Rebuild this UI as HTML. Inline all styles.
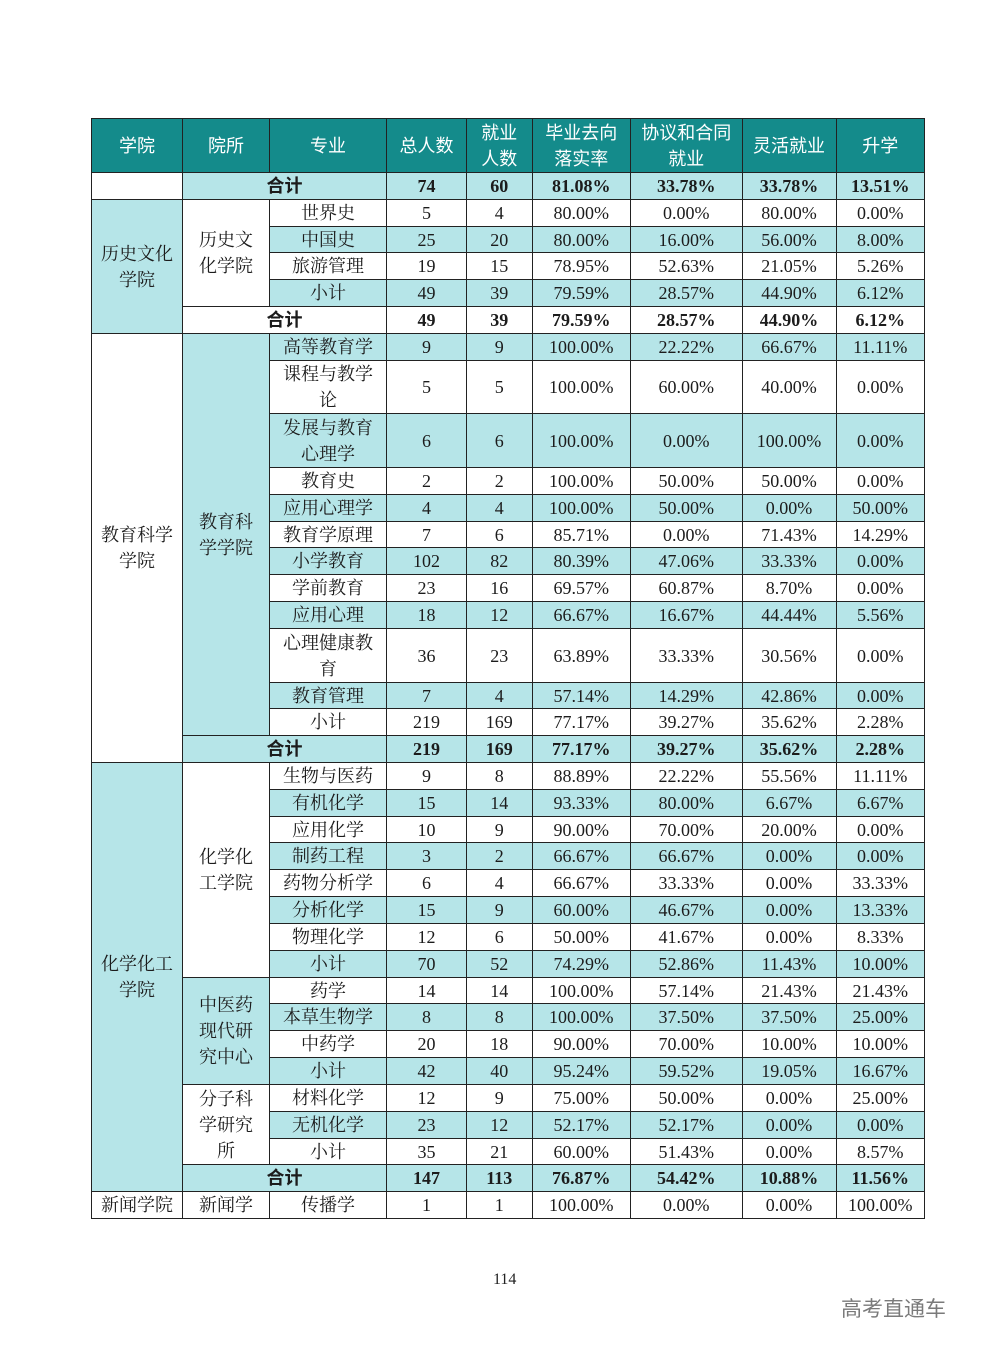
<!DOCTYPE html>
<html><head><meta charset="utf-8">
<style>
html,body{margin:0;padding:0;background:#fff;}
body{width:992px;height:1346px;position:relative;overflow:hidden;}
table{position:absolute;left:91px;top:118px;width:833px;border-collapse:collapse;table-layout:fixed;
font-family:"Liberation Serif","Noto Serif CJK SC",serif;font-size:18px;color:#1c1c1c;}
td{border:1px solid #222;padding:0;text-align:center;vertical-align:middle;line-height:20px;white-space:nowrap;overflow:hidden;}
td.m{line-height:26px;}
tr{height:27px;}
tr.s{height:26px;}
tr.d{height:53px;}
tr.e{height:54px;}
tr.h{height:54px;}
tr.h td{background:#148b8b;color:#fff;font-family:"Liberation Sans","Noto Sans CJK SC",sans-serif;font-size:18px;line-height:26px;}
.c{background:#b6e5e8;}
.b{font-weight:bold;}
.hj{font-family:"Liberation Serif","Noto Sans CJK SC",sans-serif;font-weight:bold;}
.pg{position:absolute;left:493px;top:1271px;font-family:"Liberation Serif",serif;font-size:16px;color:#222;}
.wm{position:absolute;left:841px;top:1293px;font-family:"Noto Sans CJK SC",sans-serif;font-size:21px;color:#7a7a7a;}
</style></head><body>
<table>
<colgroup><col style="width:91px"><col style="width:87px"><col style="width:117px"><col style="width:80px"><col style="width:65.5px"><col style="width:98.5px"><col style="width:111.5px"><col style="width:94px"><col style="width:88.5px"></colgroup>
<tr class="h"><td>学院</td><td>院所</td><td>专业</td><td>总人数</td><td>就业<br>人数</td><td>毕业去向<br>落实率</td><td>协议和合同<br>就业</td><td>灵活就业</td><td>升学</td></tr>
<tr class="b"><td></td><td colspan="2" class="c hj">合计</td><td class="c">74</td><td class="c">60</td><td class="c">81.08%</td><td class="c">33.78%</td><td class="c">33.78%</td><td class="c">13.51%</td></tr>

<tr><td rowspan="5" class="c m">历史文化<br>学院</td><td rowspan="4" class="m">历史文<br>化学院</td><td>世界史</td><td>5</td><td>4</td><td>80.00%</td><td>0.00%</td><td>80.00%</td><td>0.00%</td></tr>
<tr class="s"><td class="c">中国史</td><td class="c">25</td><td class="c">20</td><td class="c">80.00%</td><td class="c">16.00%</td><td class="c">56.00%</td><td class="c">8.00%</td></tr>
<tr><td>旅游管理</td><td>19</td><td>15</td><td>78.95%</td><td>52.63%</td><td>21.05%</td><td>5.26%</td></tr>
<tr><td class="c">小计</td><td class="c">49</td><td class="c">39</td><td class="c">79.59%</td><td class="c">28.57%</td><td class="c">44.90%</td><td class="c">6.12%</td></tr>
<tr class="b"><td colspan="2" class="hj">合计</td><td>49</td><td>39</td><td>79.59%</td><td>28.57%</td><td>44.90%</td><td>6.12%</td></tr>

<tr><td rowspan="13" class="m">教育科学<br>学院</td><td rowspan="12" class="c m">教育科<br>学学院</td><td class="c">高等教育学</td><td class="c">9</td><td class="c">9</td><td class="c">100.00%</td><td class="c">22.22%</td><td class="c">66.67%</td><td class="c">11.11%</td></tr>
<tr class="d"><td class="m">课程与教学<br>论</td><td>5</td><td>5</td><td>100.00%</td><td>60.00%</td><td>40.00%</td><td>0.00%</td></tr>
<tr class="e"><td class="c m">发展与教育<br>心理学</td><td class="c">6</td><td class="c">6</td><td class="c">100.00%</td><td class="c">0.00%</td><td class="c">100.00%</td><td class="c">0.00%</td></tr>
<tr><td>教育史</td><td>2</td><td>2</td><td>100.00%</td><td>50.00%</td><td>50.00%</td><td>0.00%</td></tr>
<tr><td class="c">应用心理学</td><td class="c">4</td><td class="c">4</td><td class="c">100.00%</td><td class="c">50.00%</td><td class="c">0.00%</td><td class="c">50.00%</td></tr>
<tr class="s"><td>教育学原理</td><td>7</td><td>6</td><td>85.71%</td><td>0.00%</td><td>71.43%</td><td>14.29%</td></tr>
<tr><td class="c">小学教育</td><td class="c">102</td><td class="c">82</td><td class="c">80.39%</td><td class="c">47.06%</td><td class="c">33.33%</td><td class="c">0.00%</td></tr>
<tr><td>学前教育</td><td>23</td><td>16</td><td>69.57%</td><td>60.87%</td><td>8.70%</td><td>0.00%</td></tr>
<tr><td class="c">应用心理</td><td class="c">18</td><td class="c">12</td><td class="c">66.67%</td><td class="c">16.67%</td><td class="c">44.44%</td><td class="c">5.56%</td></tr>
<tr class="e"><td class="m">心理健康教<br>育</td><td>36</td><td>23</td><td>63.89%</td><td>33.33%</td><td>30.56%</td><td>0.00%</td></tr>
<tr class="s"><td class="c">教育管理</td><td class="c">7</td><td class="c">4</td><td class="c">57.14%</td><td class="c">14.29%</td><td class="c">42.86%</td><td class="c">0.00%</td></tr>
<tr><td>小计</td><td>219</td><td>169</td><td>77.17%</td><td>39.27%</td><td>35.62%</td><td>2.28%</td></tr>
<tr class="b"><td colspan="2" class="c hj">合计</td><td class="c">219</td><td class="c">169</td><td class="c">77.17%</td><td class="c">39.27%</td><td class="c">35.62%</td><td class="c">2.28%</td></tr>

<tr><td rowspan="16" class="c m">化学化工<br>学院</td><td rowspan="8" class="m">化学化<br>工学院</td><td>生物与医药</td><td>9</td><td>8</td><td>88.89%</td><td>22.22%</td><td>55.56%</td><td>11.11%</td></tr>
<tr><td class="c">有机化学</td><td class="c">15</td><td class="c">14</td><td class="c">93.33%</td><td class="c">80.00%</td><td class="c">6.67%</td><td class="c">6.67%</td></tr>
<tr class="s"><td>应用化学</td><td>10</td><td>9</td><td>90.00%</td><td>70.00%</td><td>20.00%</td><td>0.00%</td></tr>
<tr><td class="c">制药工程</td><td class="c">3</td><td class="c">2</td><td class="c">66.67%</td><td class="c">66.67%</td><td class="c">0.00%</td><td class="c">0.00%</td></tr>
<tr><td>药物分析学</td><td>6</td><td>4</td><td>66.67%</td><td>33.33%</td><td>0.00%</td><td>33.33%</td></tr>
<tr><td class="c">分析化学</td><td class="c">15</td><td class="c">9</td><td class="c">60.00%</td><td class="c">46.67%</td><td class="c">0.00%</td><td class="c">13.33%</td></tr>
<tr><td>物理化学</td><td>12</td><td>6</td><td>50.00%</td><td>41.67%</td><td>0.00%</td><td>8.33%</td></tr>
<tr><td class="c">小计</td><td class="c">70</td><td class="c">52</td><td class="c">74.29%</td><td class="c">52.86%</td><td class="c">11.43%</td><td class="c">10.00%</td></tr>
<tr class="s"><td rowspan="4" class="c m">中医药<br>现代研<br>究中心</td><td>药学</td><td>14</td><td>14</td><td>100.00%</td><td>57.14%</td><td>21.43%</td><td>21.43%</td></tr>
<tr><td class="c">本草生物学</td><td class="c">8</td><td class="c">8</td><td class="c">100.00%</td><td class="c">37.50%</td><td class="c">37.50%</td><td class="c">25.00%</td></tr>
<tr><td>中药学</td><td>20</td><td>18</td><td>90.00%</td><td>70.00%</td><td>10.00%</td><td>10.00%</td></tr>
<tr><td class="c">小计</td><td class="c">42</td><td class="c">40</td><td class="c">95.24%</td><td class="c">59.52%</td><td class="c">19.05%</td><td class="c">16.67%</td></tr>
<tr><td rowspan="3" class="m">分子科<br>学研究<br>所</td><td>材料化学</td><td>12</td><td>9</td><td>75.00%</td><td>50.00%</td><td>0.00%</td><td>25.00%</td></tr>
<tr><td class="c">无机化学</td><td class="c">23</td><td class="c">12</td><td class="c">52.17%</td><td class="c">52.17%</td><td class="c">0.00%</td><td class="c">0.00%</td></tr>
<tr class="s"><td>小计</td><td>35</td><td>21</td><td>60.00%</td><td>51.43%</td><td>0.00%</td><td>8.57%</td></tr>
<tr class="b"><td colspan="2" class="c hj">合计</td><td class="c">147</td><td class="c">113</td><td class="c">76.87%</td><td class="c">54.42%</td><td class="c">10.88%</td><td class="c">11.56%</td></tr>

<tr><td>新闻学院</td><td>新闻学</td><td>传播学</td><td>1</td><td>1</td><td>100.00%</td><td>0.00%</td><td>0.00%</td><td>100.00%</td></tr>
</table>
<div class="pg">114</div>
<div class="wm">高考直通车</div>
</body></html>
